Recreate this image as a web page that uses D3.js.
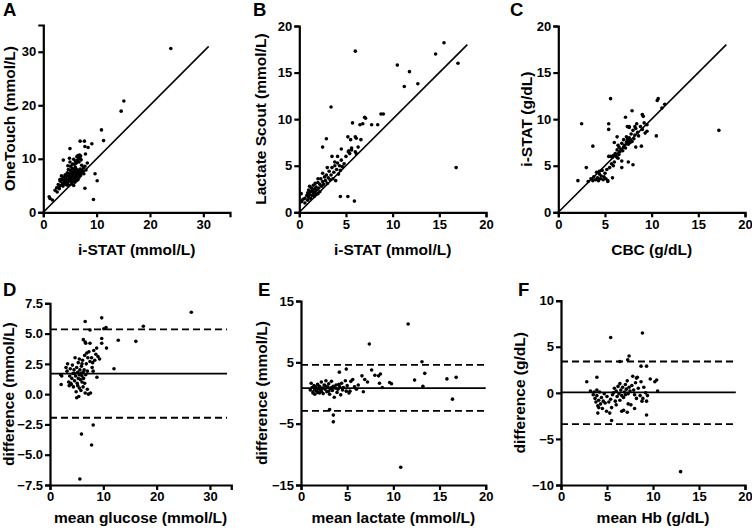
<!DOCTYPE html>
<html>
<head>
<meta charset="utf-8">
<script src="https://cdn.jsdelivr.net/npm/d3@7"></script>
<style>
  body { margin: 0; background: #fff; }
  text { font-family: "Liberation Sans", Arial, sans-serif; font-weight: bold; fill: #000; }
</style>
</head>
<body>
<script>
const w = 752;
const h = 530;

// A: i-STAT vs OneTouch glucose (mmol/L)
const glucosePairs = [
  [23.9,30.6],[15.1,20.8],[14.6,18.9],[10.9,15.4],[11.3,13.4],[6.9,13.3],[7.7,13.3],[9.1,12.8],
  [7.8,12.3],[8.4,12.1],[7.9,10.9],[5.0,11.9],[3.75,9.75],[4.9,10.1],[5.7,9.9],[8.25,9.2],
  [9.7,7.2],[10.1,5.9],[7.8,4.5],[9.4,2.4],[1.25,2.6],[1.7,2.3],[1.1,2.9],[2.2,4.1],[3.0,4.8],
  [3.1,6.1],[3.9,5.6],
  [6.3,10.4],[6.5,10.6],[6.8,10.7],[7.0,10.5],[6.6,10.2],[6.9,10.0],[6.4,9.7],[7.1,9.8],[6.7,9.4],[6.2,9.2],[7.2,8.8],
  [2.5,4.6],[2.8,5.2],[3.0,4.4],[3.2,5.8],[3.3,5.0],[3.5,6.2],[3.6,5.4],[3.7,4.9],[3.8,6.6],[3.9,6.0],
  [4.0,5.3],[4.1,7.0],[4.2,6.4],[4.3,5.7],[4.3,6.9],[4.4,5.1],[4.5,7.4],[4.5,6.1],[4.6,5.5],[4.7,6.8],
  [4.7,8.0],[4.8,6.3],[4.8,5.0],[4.9,7.2],[5.0,5.8],[5.0,6.6],[5.1,7.8],[5.1,8.6],[5.2,6.0],[5.2,7.0],
  [5.3,5.3],[5.3,6.5],[5.4,7.5],[5.4,8.2],[5.5,5.7],[5.5,6.8],[5.6,6.2],[5.6,7.3],[5.7,5.0],[5.7,8.0],
  [5.8,6.6],[5.8,7.0],[5.9,5.6],[5.9,7.7],[6.0,6.3],[6.0,8.4],[6.1,6.9],[6.1,7.4],[6.2,5.9],[6.2,8.0],
  [6.3,6.6],[6.3,7.2],[6.4,7.9],[6.5,6.1],[6.5,7.0],[6.6,7.6],[6.7,6.5],[6.8,7.3],[6.9,8.1],[7.0,6.9],
  [7.1,7.5],[7.3,7.8],[7.5,8.3],[7.6,7.2],[7.8,8.6],[8.0,7.9],[5.0,9.4],[5.5,9.0],[4.6,8.7],[6.0,9.6],
  [3.4,6.8],[2.6,3.8],[5.9,9.0]
];

// B: i-STAT vs Lactate Scout (mmol/L)
const lactatePairs = [
  [15.5,18.2],[14.6,17.0],[17.0,16.0],[6.0,17.3],[10.5,15.8],[11.8,15.1],[11.25,13.5],[12.7,13.8],
  [3.4,11.3],[16.8,4.8],[4.4,1.7],[5.2,1.7],[5.9,1.2],[8.75,10.55],[9.0,10.55],[7.0,10.2],[7.1,10.1],
  [7.75,9.4],[8.4,9.4],[6.5,9.4],[6.8,9.5],[5.7,9.6],[6.0,8.1],[6.1,7.95],[5.2,8.1],[5.5,7.8],[6.6,7.8],
  [2.9,7.9],[2.5,7.0],[5.6,6.9],[5.25,6.5],[5.4,6.3],[6.1,6.3],[4.5,6.8],[4.1,6.0],[3.8,5.4],[3.5,6.0],
  [0.2,2.0],[0.25,1.15],[0.6,1.0],[0.4,1.4],
  [0.6,1.5],[0.8,1.8],[0.9,2.1],[1.0,1.6],[1.0,2.4],[1.1,1.9],[1.2,2.2],[1.2,1.5],[1.3,2.6],[1.4,1.8],
  [1.4,2.3],[1.5,2.0],[1.5,2.9],[1.6,1.7],[1.6,2.5],[1.7,2.2],[1.7,3.1],[1.8,1.9],[1.8,2.7],[1.9,2.4],
  [2.0,2.0],[2.0,3.2],[2.1,2.6],[2.2,3.0],[2.2,2.2],[2.3,3.6],[2.4,2.8],[2.5,3.3],[2.5,4.2],[2.6,3.0],
  [2.7,3.8],[2.8,3.4],[2.9,4.0],[3.0,3.1],[3.1,3.7],[3.2,4.4],[3.3,3.5],[3.4,4.0],[3.5,4.8],[3.6,3.6],
  [3.7,4.3],[3.8,5.0],[3.9,3.4],[4.0,4.6],[4.1,5.3],[4.2,4.1],[4.3,5.0],[4.4,4.5],[4.5,5.6],[4.6,4.9],
  [4.8,5.2],[5.0,6.0],[5.3,6.6],[5.6,6.7],[6.0,6.5],[6.3,7.0],[1.1,2.8],[0.9,1.3],[2.0,3.6],[3.0,4.8]
];

// C: CBC vs i-STAT haemoglobin (g/dL)
const hbPairs = [
  [5.6,12.2],[10.6,12.0],[10.7,12.2],[11.4,11.6],[11.1,11.2],[7.2,10.2],[7.9,10.9],[9.0,10.5],[9.1,10.3],
  [2.5,9.5],[5.4,9.5],[5.4,8.9],[3.7,7.1],[17.2,8.8],[10.5,8.2],[2.1,3.4],[3.0,4.8],[8.0,5.1],[7.5,5.4],
  [5.8,3.7],[5.3,3.3],[6.8,5.5],[6.3,5.9],[6.1,6.2],[8.9,7.1],[8.3,7.0],[9.5,8.7],[9.3,8.5],[8.4,9.5],
  [8.2,9.2],[7.4,9.2],[7.6,9.2],[7.4,7.8],[7.6,7.8],
  [3.2,3.3],[3.5,3.6],[3.7,3.4],[3.8,3.8],[4.0,3.5],[4.1,4.3],[4.2,3.7],[4.3,3.4],[4.4,4.1],[4.5,3.6],
  [4.6,3.9],[4.7,4.5],[4.8,3.5],[4.9,3.8],[5.0,4.2],[5.1,3.6],[5.2,4.6],[5.3,3.4],[5.5,4.8],[5.6,6.0],
  [5.7,5.2],[5.8,5.9],[5.9,6.1],[6.0,5.4],[6.1,6.3],[6.2,6.0],[6.3,6.7],[6.4,5.8],[6.5,6.2],[6.5,7.0],
  [6.6,6.5],[6.7,6.8],[6.8,7.4],[6.9,6.6],[7.0,7.0],[7.0,7.8],[7.1,7.2],[7.2,6.9],[7.3,7.5],[7.3,8.1],
  [7.4,7.7],[7.5,7.3],[7.6,8.0],[7.7,7.5],[7.8,8.4],[7.9,7.6],[8.0,8.8],[8.1,7.9],[8.2,8.3],[8.3,9.0],
  [8.5,8.6],[8.6,8.2],[8.8,9.2],[9.0,8.9],[9.2,9.6],[9.5,9.4],[6.3,8.1],[6.0,7.5],[7.6,9.1],[5.9,5.0],
  [6.8,4.8],[4.4,4.4],[5.4,6.0],[6.4,7.2]
];

// D: mean glucose vs difference (mmol/L)
const glucoseDiff = [
  [26.5,6.76],[9.7,6.3],[6.6,6.0],[17.5,5.6],[10.1,5.4],[10.5,5.5],[7.5,5.3],[12.8,4.45],[16.1,4.36],
  [9.7,4.6],[9.7,4.2],[12.0,2.1],[10.6,3.8],[8.1,-2.55],[5.9,-3.3],[7.8,-4.2],[5.6,-7.0],[6.6,4.3],
  [6.25,4.5],[7.5,4.2],[8.75,3.8],
  [2.0,1.6],[2.2,1.5],[2.1,0.8],[3.0,2.2],[3.2,1.9],[3.3,2.5],[3.5,1.0],[3.6,0.7],[3.7,1.5],[3.8,2.1],
  [4.0,0.8],[4.1,1.3],[4.2,2.4],[4.3,1.7],[4.4,0.6],[4.5,2.0],[4.6,1.1],[4.7,3.0],[4.8,1.5],[4.9,0.2],
  [5.0,2.2],[5.0,-0.3],[5.1,0.9],[5.2,1.8],[5.3,1.3],[5.3,2.6],[5.4,-0.2],[5.5,1.6],[5.5,0.5],[5.6,2.0],
  [5.7,1.2],[5.8,1.7],[5.8,0.3],[5.9,2.3],[6.0,1.0],[6.0,1.5],[6.1,2.8],[6.2,0.6],[6.2,1.8],[6.3,1.3],
  [6.4,2.0],[6.5,3.2],[6.5,0.9],[6.6,0.1],[6.7,1.6],[6.8,2.5],[6.9,3.4],[7.0,0.4],[7.1,3.0],[7.2,0.0],
  [7.3,3.5],[7.5,2.7],[7.6,0.1],[7.8,3.0],[8.0,2.6],[8.2,3.6],[8.4,2.8],[8.6,3.3],[8.8,1.4],[9.0,3.1],
  [9.3,2.9],[7.9,2.2],[6.0,2.5],[5.2,0.7],[4.6,1.7],[3.9,0.9],[6.7,4.2],[5.5,2.9],[7.0,1.9],[8.1,1.9]
];
const glucoseLimits = { mean: 1.7, upper: 5.35, lower: -1.95, xEnd: 33.2 };

// E: mean lactate vs difference (mmol/L)
const lactateDiff = [
  [11.6,11.25],[7.4,8.0],[10.8,-12.1],[16.4,-1.0],[16.8,2.55],[15.8,2.3],[13.1,5.1],[13.4,3.2],[12.3,2.1],
  [13.2,1.1],[9.6,1.7],[9.8,1.5],[3.1,-2.7],[3.5,-3.6],[3.5,-4.7],[4.15,3.4],[4.9,3.9],[7.65,3.75],
  [8.0,2.9],[8.4,2.8],[8.6,3.1],[8.5,1.6],[8.8,0.9],[6.6,2.8],[6.9,2.2],[7.2,1.8],[6.75,0.2],[5.3,0.3],
  [1.0,0.5],[1.1,1.6],[1.2,0.9],[1.3,0.2],[1.4,1.2],[1.5,0.6],[1.5,-0.2],[1.6,1.0],[1.7,0.3],[1.8,1.4],
  [1.9,0.7],[2.0,0.0],[2.0,1.1],[2.1,0.5],[2.2,1.8],[2.3,0.8],[2.4,-0.1],[2.5,1.3],[2.6,0.6],[2.7,2.0],
  [2.8,0.2],[2.9,1.0],[3.0,1.5],[3.1,-0.2],[3.2,0.7],[3.3,1.9],[3.4,0.4],[3.5,1.1],[3.6,-0.7],[3.7,0.8],
  [3.8,1.3],[3.9,0.1],[4.0,0.6],[4.2,1.0],[4.3,-0.3],[4.4,1.6],[4.5,0.5],[4.6,0.9],[4.8,2.0],[4.9,0.3],
  [5.0,1.2],[5.2,0.0],[5.4,1.9],[5.6,2.2],[5.8,1.0],[6.0,0.6],[6.2,1.3],[1.3,0.0],[2.2,0.3],[2.6,1.2],
  [3.0,0.3],[1.8,0.1],[4.1,1.4],[3.3,0.9]
];
const lactateLimits = { mean: 0.8, upper: 4.6, lower: -2.9, xEnd: 20 };

// F: mean Hb vs difference (g/dL)
const hbDiff = [
  [8.85,6.5],[5.4,6.0],[7.4,4.0],[7.25,3.6],[6.4,3.4],[9.3,2.9],[8.7,2.9],[13.0,-8.55],[9.3,-2.4],
  [5.5,-3.0],[2.8,1.2],[3.9,1.7],[10.2,1.2],[10.4,1.4],[10.5,0.2],[9.7,1.5],[8.2,1.6],[9.3,-0.9],
  [8.9,-0.6],[8.0,-1.7],[4.95,-2.0],[4.0,-2.2],[5.3,-2.2],
  [3.2,0.2],[3.5,-0.2],[3.6,0.1],[3.7,-0.6],[3.8,-1.0],[3.9,-0.3],[4.0,-1.4],[4.1,-0.8],[4.2,0.1],
  [4.3,-1.2],[4.4,-0.5],[4.5,-1.7],[4.6,-0.9],[4.8,-1.1],[5.0,-0.4],[5.2,-1.0],[5.4,-0.7],[5.6,-0.2],
  [5.8,0.5],[5.9,-0.9],[6.0,0.2],[6.1,-0.4],[6.2,0.7],[6.3,-0.1],[6.4,-0.8],[6.5,0.3],[6.6,-0.3],
  [6.7,0.6],[6.8,-0.5],[6.9,0.1],[7.0,0.9],[7.0,-0.2],[7.1,0.4],[7.2,1.3],[7.3,-0.1],[7.4,0.6],
  [7.5,0.2],[7.6,-1.3],[7.7,0.8],[7.8,1.8],[7.9,0.3],[8.0,-0.2],[8.1,1.1],[8.2,-0.6],[8.3,1.7],
  [8.4,0.5],[8.6,-0.3],[8.7,1.2],[8.8,-0.9],[9.0,0.6],[9.2,0.0],[9.4,-0.3],[6.0,-1.3],[5.5,-1.6],
  [7.3,-1.2],[4.1,-1.6],[6.8,-1.9],[7.2,-2.1],[6.4,1.0],[5.7,0.0],[4.7,-0.1],[3.9,0.3],[6.6,-2.0]
];
const hbLimits = { mean: 0.05, upper: 3.4, lower: -3.4, xEnd: 19 };

const svg = d3.select("body")
  .append("svg")
  .attr("width", w)
  .attr("height", h);

function drawPanel(p) {
  const x = d3.scaleLinear().domain(p.xDomain).range([p.left, p.right]);
  const y = d3.scaleLinear().domain(p.yDomain).range([p.bottom, p.top]);
  const g = svg.append("g");

  // reference lines
  if (p.identity) {
    g.append("line")
      .attr("x1", x(0)).attr("y1", y(0))
      .attr("x2", x(p.identity)).attr("y2", y(p.identity))
      .attr("stroke", "#000").attr("stroke-width", 1.6);
  }
  if (p.limits) {
    const L = p.limits;
    [["mean", null], ["upper", "7,4"], ["lower", "7,4"]].forEach(([k, dash]) => {
      g.append("line")
        .attr("x1", x(0)).attr("x2", x(L.xEnd))
        .attr("y1", y(L[k])).attr("y2", y(L[k]))
        .attr("stroke", "#000").attr("stroke-width", 1.8)
        .attr("stroke-dasharray", dash);
    });
  }

  // points
  g.selectAll("circle")
    .data(p.data)
    .join("circle")
    .attr("cx", d => x(d[0]))
    .attr("cy", d => y(d[1]))
    .attr("r", 1.8)
    .attr("fill", "#000");

  // AXES
  const xAxis = g.append("g")
    .attr("transform", `translate(0, ${p.bottom})`)
    .call(d3.axisBottom(x).tickValues(p.xTicks).tickSizeOuter(0).tickSize(5).tickPadding(2)
      .tickFormat(d3.format("d")));
  const yAxis = g.append("g")
    .attr("transform", `translate(${p.left}, 0)`)
    .call(d3.axisLeft(y).tickValues(p.yTicks).tickSizeOuter(0).tickSize(5).tickPadding(2)
      .tickFormat(p.yFormat || d3.format("d")));
  [xAxis, yAxis].forEach(a => {
    a.select(".domain").attr("stroke-width", 2.2).attr("stroke", "#000");
    a.selectAll(".tick line").attr("stroke-width", 2.2).attr("stroke", "#000");
    a.selectAll(".tick text").style("font-size", "13px").style("font-weight", "bold")
      .style("font-family", "'Liberation Sans', Arial, sans-serif").attr("fill", "#000");
  });

  // TITLES
  g.append("text")
    .attr("x", (p.left + p.right) / 2)
    .attr("y", p.xTitleY)
    .attr("text-anchor", "middle")
    .style("font-size", "15.5px")
    .text(p.xTitle);
  g.append("text")
    .attr("transform", `translate(${p.yTitleX}, ${(p.top + p.bottom) / 2}) rotate(-90)`)
    .attr("text-anchor", "middle")
    .style("font-size", "15.5px")
    .text(p.yTitle);
  g.append("text")
    .attr("x", p.letterX)
    .attr("y", p.letterY)
    .style("font-size", "18.5px")
    .text(p.letter);
}

const fmt1 = d3.format(".1f");

drawPanel({ letter: "A", letterX: 3, letterY: 16, data: glucosePairs, identity: 31,
  xDomain: [0, 35], yDomain: [0, 35], left: 43.3, right: 230, top: 25, bottom: 212.3,
  xTicks: [0, 10, 20, 30], yTicks: [0, 10, 20, 30],
  xTitle: "i-STAT (mmol/L)", yTitle: "OneTouch (mmol/L)", xTitleY: 255, yTitleX: 15 });

drawPanel({ letter: "B", letterX: 253, letterY: 16, data: lactatePairs, identity: 18,
  xDomain: [0, 20], yDomain: [0, 20], left: 299.3, right: 486, top: 26, bottom: 212.3,
  xTicks: [0, 5, 10, 15, 20], yTicks: [0, 5, 10, 15, 20],
  xTitle: "i-STAT (mmol/L)", yTitle: "Lactate Scout (mmol/L)", xTitleY: 255, yTitleX: 266 });

drawPanel({ letter: "C", letterX: 510, letterY: 16, data: hbPairs, identity: 18,
  xDomain: [0, 20], yDomain: [0, 20], left: 558.3, right: 745, top: 26, bottom: 212.3,
  xTicks: [0, 5, 10, 15, 20], yTicks: [0, 5, 10, 15, 20],
  xTitle: "CBC (g/dL)", yTitle: "i-STAT (g/dL)", xTitleY: 255, yTitleX: 532 });

drawPanel({ letter: "D", letterX: 3, letterY: 296, data: glucoseDiff, limits: glucoseLimits,
  xDomain: [0, 34], yDomain: [-7.5, 7.5], left: 50, right: 231.3, top: 303.3, bottom: 485,
  xTicks: [0, 10, 20, 30], yTicks: [-7.5, -5, -2.5, 0, 2.5, 5, 7.5], yFormat: fmt1,
  xTitle: "mean glucose (mmol/L)", yTitle: "difference (mmol/L)", xTitleY: 523, yTitleX: 13.5 });

drawPanel({ letter: "E", letterX: 258, letterY: 296, data: lactateDiff, limits: lactateLimits,
  xDomain: [0, 20], yDomain: [-15, 15], left: 301, right: 485.7, top: 301, bottom: 485,
  xTicks: [0, 5, 10, 15, 20], yTicks: [-15, -5, 5, 15],
  xTitle: "mean lactate (mmol/L)", yTitle: "difference (mmol/L)", xTitleY: 523, yTitleX: 267 });

drawPanel({ letter: "F", letterX: 518, letterY: 296, data: hbDiff, limits: hbLimits,
  xDomain: [0, 20], yDomain: [-10, 10], left: 561, right: 745, top: 300.7, bottom: 485,
  xTicks: [0, 5, 10, 15, 20], yTicks: [-10, -5, 0, 5, 10],
  xTitle: "mean Hb (g/dL)", yTitle: "difference (g/dL)", xTitleY: 523, yTitleX: 525 });
</script>
</body>
</html>
